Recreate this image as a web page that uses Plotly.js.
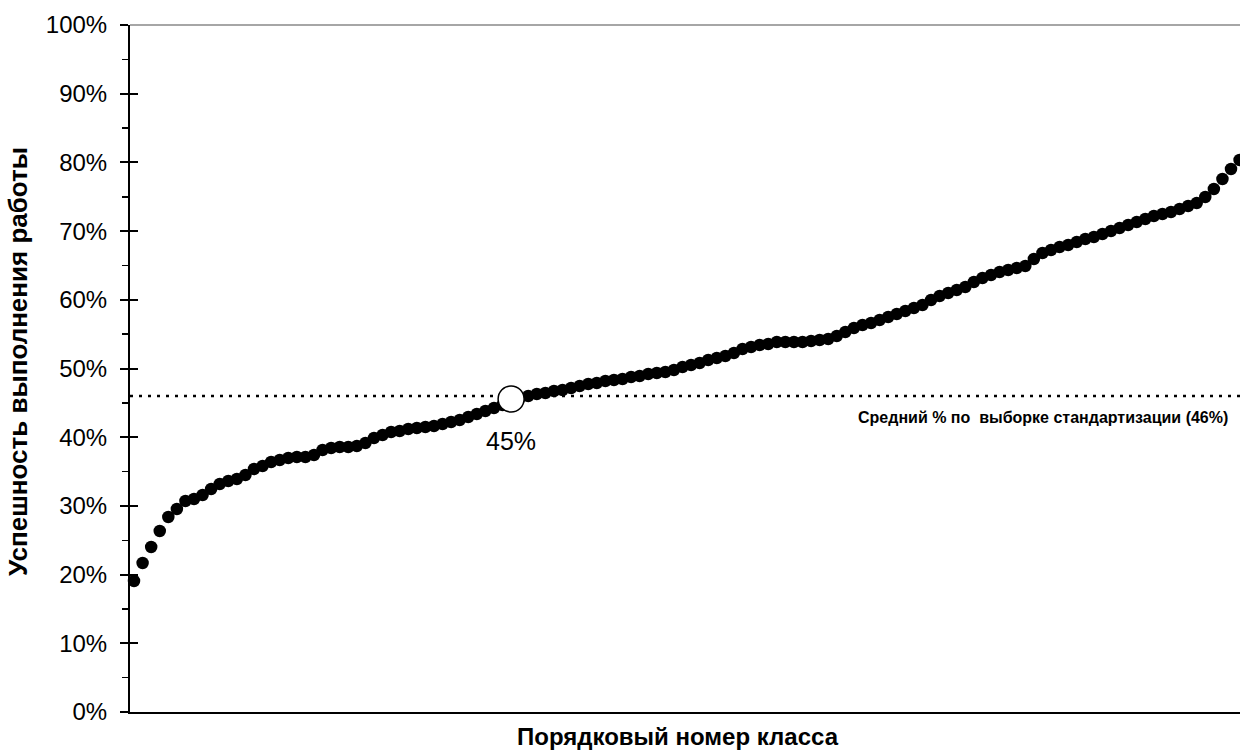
<!DOCTYPE html>
<html>
<head>
<meta charset="utf-8">
<script src="https://cdn.plot.ly/plotly-3.0.1.min.js"></script>
<style>html,body{margin:0;padding:0;background:#fff;}#chart{width:1240px;height:751px;}</style>
</head>
<body>
<div id="chart"></div>
<script>
// Success rate per class, sorted ascending (percent)
const successPct = [
  19.07, 21.69, 24.02, 26.35, 28.38, 29.55, 30.71, 31.00, 31.59, 32.46,
  33.19, 33.62, 33.92, 34.50, 35.37, 35.81, 36.39, 36.68, 36.97, 37.12,
  37.12, 37.41, 38.14, 38.43, 38.57, 38.57, 38.72, 39.16, 39.88, 40.32,
  40.76, 40.90, 41.19, 41.34, 41.48, 41.63, 41.92, 42.21, 42.50, 42.94,
  43.38, 43.81, 44.25, 44.69, 45.56, 45.71, 46.00, 46.29, 46.43, 46.72,
  46.87, 47.16, 47.45, 47.74, 47.89, 48.18, 48.33, 48.47, 48.76, 48.91,
  49.20, 49.34, 49.49, 49.78, 50.22, 50.51, 50.80, 51.24, 51.53, 51.82,
  52.26, 52.84, 53.13, 53.42, 53.57, 53.86, 53.86, 53.86, 53.86, 54.00,
  54.15, 54.29, 54.73, 55.31, 55.90, 56.33, 56.62, 57.06, 57.50, 57.93,
  58.37, 58.81, 59.24, 59.97, 60.55, 60.99, 61.43, 61.86, 62.59, 63.17,
  63.61, 64.05, 64.34, 64.63, 64.92, 65.94, 66.81, 67.25, 67.69, 67.98,
  68.41, 68.85, 69.14, 69.58, 70.01, 70.45, 70.89, 71.32, 71.76, 72.20,
  72.49, 72.78, 73.22, 73.65, 74.09, 74.96, 76.13, 77.58, 79.04, 80.35
];
const highlightIndex = 44;          // highlighted class (0-based)
const highlightLabel = "45%";
const standardMean = 0.46;          // mean over standardisation sample
const meanLabel = "Средний % по  выборке стандартизации (46%)";
const xTitle = "Порядковый номер класса";
const yTitle = "Успешность выполнения работы";
const yTickVals = [0, 0.1, 0.2, 0.3, 0.4, 0.5, 0.6, 0.7, 0.8, 0.9, 1.0];
const yTickText = ["0%", "10%", "20%", "30%", "40%", "50%", "60%", "70%", "80%", "90%", "100%"];

const classNo = successPct.map((_, i) => i + 1);
const shares = successPct.map(v => v / 100);

const font = "Liberation Sans, Arial, sans-serif";

const traces = [
  {
    x: classNo, y: shares, type: "scatter", mode: "markers",
    marker: {color: "#000", size: 12.5}, cliponaxis: false, hoverinfo: "skip"
  },
  {
    x: [classNo[highlightIndex]], y: [shares[highlightIndex]],
    type: "scatter", mode: "markers",
    marker: {color: "#fff", size: 26, line: {color: "#000", width: 1.5}},
    cliponaxis: false, hoverinfo: "skip"
  },
  // invisible trace to activate the overlay axis used for inner tick marks
  { x: [classNo[0]], y: [shares[0]], yaxis: "y2", type: "scatter", mode: "markers",
    marker: {opacity: 0}, hoverinfo: "skip" }
];

const layout = {
  width: 1240, height: 751,
  margin: {l: 130, r: 0, t: 25, b: 39},
  paper_bgcolor: "#fff", plot_bgcolor: "#fff",
  showlegend: false,
  font: {family: font, color: "#000"},
  xaxis: {
    range: [0.53, 130.05], showgrid: false, zeroline: false,
    showticklabels: false, ticks: "",
    showline: true, linecolor: "#000", linewidth: 2
  },
  yaxis: {
    range: [0, 1], showgrid: false, zeroline: false,
    tickvals: yTickVals, ticktext: yTickText,
    ticks: "outside", ticklen: 8, tickwidth: 2, tickcolor: "#000",
    tickfont: {family: font, size: 24, color: "#000"},
    ticklabelstandoff: 8,
    showline: true, linecolor: "#000", linewidth: 2,
    minor: {dtick: 0.05, ticks: "outside", ticklen: 6, tickwidth: 1.5, tickcolor: "#000"}
  },
  yaxis2: {
    overlaying: "y", range: [0, 1], side: "left",
    tickvals: yTickVals, showticklabels: false,
    ticks: "inside", ticklen: 8, tickwidth: 2, tickcolor: "#000",
    showgrid: false, zeroline: false, showline: false
  },
  shapes: [
    {type: "line", xref: "paper", yref: "y", x0: 0, x1: 1, y0: standardMean, y1: standardMean,
     line: {color: "#000", width: 2.5, dash: "3px,6px"}, layer: "below"},
    {type: "line", xref: "paper", yref: "paper", x0: 0, x1: 1, y0: 1, y1: 1,
     line: {color: "#888", width: 1.5}}
  ],
  annotations: [
    {x: classNo[highlightIndex], y: shares[highlightIndex], xref: "x", yref: "y",
     text: highlightLabel, showarrow: false, yshift: -42,
     font: {family: font, size: 25, color: "#000"}},
    {x: 1, xref: "paper", y: standardMean, yref: "y", xanchor: "right", yanchor: "top",
     xshift: -10, yshift: -11, text: "<b>" + meanLabel + "</b>", showarrow: false,
     font: {family: font, size: 16, color: "#000"}},
    {x: 0.4937, xref: "paper", y: 0, yref: "paper", xanchor: "center", yanchor: "middle",
     yshift: -24, borderpad: 0, text: "<b>" + xTitle + "</b>", showarrow: false,
     font: {family: font, size: 24, color: "#000"}},
    {x: 0, xref: "paper", y: 0.5095, yref: "paper", xanchor: "center", yanchor: "middle",
     xshift: -112, textangle: -90, text: "<b>" + yTitle + "</b>", showarrow: false,
     font: {family: font, size: 26, color: "#000"}}
  ]
};

Plotly.newPlot("chart", traces, layout, {displayModeBar: false, staticPlot: true});
</script>
</body>
</html>
